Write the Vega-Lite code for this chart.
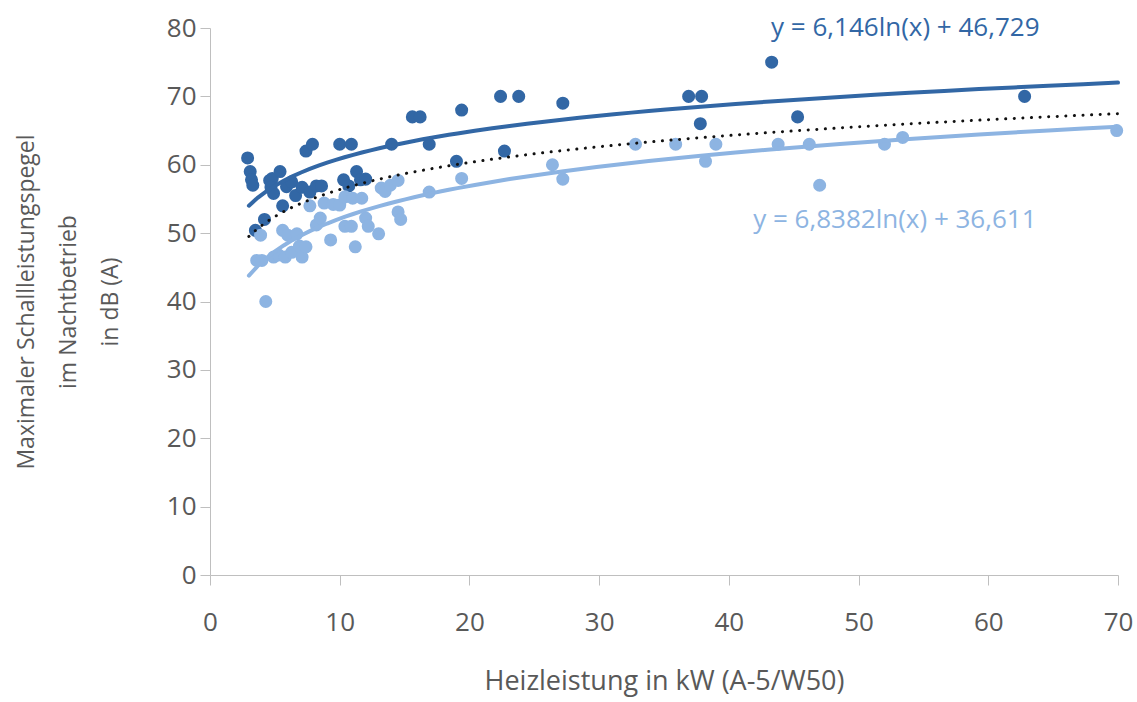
{
  "$schema": "https://vega.github.io/schema/vega-lite/v6.json",
  "autosize": "none",
  "width": 908,
  "height": 547,
  "padding": {"left": 210, "top": 28, "right": 19, "bottom": 127},
  "background": "white",
  "config": {
    "view": {"stroke": null},
    "font": "Open Sans",
    "axis": {
      "grid": false,
      "domainColor": "#bfbfbf",
      "tickColor": "#bfbfbf",
      "labelColor": "#595959",
      "titleColor": "#595959",
      "labelFont": "Open Sans",
      "titleFont": "Open Sans",
      "labelFontSize": 26,
      "titleFontSize": 23,
      "titleFontWeight": "normal",
      "tickSize": 10,
      "labelFlush": false
    }
  },
  "datasets": {
    "points": [
      {"kw": 2.9, "db": 61, "serie": "dunkel"},
      {"kw": 3.1, "db": 59, "serie": "dunkel"},
      {"kw": 3.2, "db": 57.8, "serie": "dunkel"},
      {"kw": 3.3, "db": 57, "serie": "dunkel"},
      {"kw": 3.5, "db": 50.4, "serie": "dunkel"},
      {"kw": 4.2, "db": 52, "serie": "dunkel"},
      {"kw": 4.6, "db": 57.7, "serie": "dunkel"},
      {"kw": 4.8, "db": 58, "serie": "dunkel"},
      {"kw": 4.7, "db": 56.7, "serie": "dunkel"},
      {"kw": 4.9, "db": 55.8, "serie": "dunkel"},
      {"kw": 5.4, "db": 59, "serie": "dunkel"},
      {"kw": 5.6, "db": 54, "serie": "dunkel"},
      {"kw": 5.9, "db": 56.8, "serie": "dunkel"},
      {"kw": 6.3, "db": 57.5, "serie": "dunkel"},
      {"kw": 6.6, "db": 55.5, "serie": "dunkel"},
      {"kw": 7.1, "db": 56.7, "serie": "dunkel"},
      {"kw": 7.4, "db": 62, "serie": "dunkel"},
      {"kw": 7.9, "db": 63, "serie": "dunkel"},
      {"kw": 7.7, "db": 56, "serie": "dunkel"},
      {"kw": 8.2, "db": 56.9, "serie": "dunkel"},
      {"kw": 8.6, "db": 56.9, "serie": "dunkel"},
      {"kw": 10.0, "db": 63, "serie": "dunkel"},
      {"kw": 10.3, "db": 57.8, "serie": "dunkel"},
      {"kw": 10.7, "db": 56.9, "serie": "dunkel"},
      {"kw": 10.9, "db": 63, "serie": "dunkel"},
      {"kw": 11.3, "db": 59, "serie": "dunkel"},
      {"kw": 11.6, "db": 57.8, "serie": "dunkel"},
      {"kw": 12.0, "db": 57.9, "serie": "dunkel"},
      {"kw": 14.0, "db": 63, "serie": "dunkel"},
      {"kw": 15.6, "db": 67, "serie": "dunkel"},
      {"kw": 16.2, "db": 67, "serie": "dunkel"},
      {"kw": 16.9, "db": 63, "serie": "dunkel"},
      {"kw": 19.0, "db": 60.5, "serie": "dunkel"},
      {"kw": 19.4, "db": 68, "serie": "dunkel"},
      {"kw": 22.4, "db": 70, "serie": "dunkel"},
      {"kw": 22.7, "db": 62, "serie": "dunkel"},
      {"kw": 23.8, "db": 70, "serie": "dunkel"},
      {"kw": 27.2, "db": 69, "serie": "dunkel"},
      {"kw": 36.9, "db": 70, "serie": "dunkel"},
      {"kw": 37.9, "db": 70, "serie": "dunkel"},
      {"kw": 37.8, "db": 66, "serie": "dunkel"},
      {"kw": 43.3, "db": 75, "serie": "dunkel"},
      {"kw": 45.3, "db": 67, "serie": "dunkel"},
      {"kw": 62.8, "db": 70, "serie": "dunkel"},
      {"kw": 3.6, "db": 46, "serie": "hell"},
      {"kw": 4.0, "db": 46, "serie": "hell"},
      {"kw": 4.3, "db": 40, "serie": "hell"},
      {"kw": 3.9, "db": 49.7, "serie": "hell"},
      {"kw": 4.9, "db": 46.5, "serie": "hell"},
      {"kw": 5.3, "db": 46.8, "serie": "hell"},
      {"kw": 5.6, "db": 50.4, "serie": "hell"},
      {"kw": 6.0, "db": 49.7, "serie": "hell"},
      {"kw": 5.8, "db": 46.5, "serie": "hell"},
      {"kw": 6.3, "db": 47.2, "serie": "hell"},
      {"kw": 6.7, "db": 49.9, "serie": "hell"},
      {"kw": 6.9, "db": 48.1, "serie": "hell"},
      {"kw": 7.1, "db": 46.5, "serie": "hell"},
      {"kw": 7.4, "db": 48, "serie": "hell"},
      {"kw": 7.7, "db": 54, "serie": "hell"},
      {"kw": 8.2, "db": 51.2, "serie": "hell"},
      {"kw": 8.5, "db": 52.2, "serie": "hell"},
      {"kw": 8.8, "db": 54.4, "serie": "hell"},
      {"kw": 9.3, "db": 49, "serie": "hell"},
      {"kw": 9.5, "db": 54.2, "serie": "hell"},
      {"kw": 10.0, "db": 54.1, "serie": "hell"},
      {"kw": 10.4, "db": 55.3, "serie": "hell"},
      {"kw": 10.4, "db": 51, "serie": "hell"},
      {"kw": 10.9, "db": 51, "serie": "hell"},
      {"kw": 11.2, "db": 48, "serie": "hell"},
      {"kw": 11.0, "db": 55.1, "serie": "hell"},
      {"kw": 11.7, "db": 55.1, "serie": "hell"},
      {"kw": 12.0, "db": 52.2, "serie": "hell"},
      {"kw": 12.2, "db": 51, "serie": "hell"},
      {"kw": 13.0, "db": 49.9, "serie": "hell"},
      {"kw": 13.2, "db": 56.6, "serie": "hell"},
      {"kw": 13.5, "db": 56.1, "serie": "hell"},
      {"kw": 13.9, "db": 57, "serie": "hell"},
      {"kw": 14.5, "db": 57.7, "serie": "hell"},
      {"kw": 14.5, "db": 53.1, "serie": "hell"},
      {"kw": 14.7, "db": 52, "serie": "hell"},
      {"kw": 16.9, "db": 56, "serie": "hell"},
      {"kw": 19.4, "db": 58, "serie": "hell"},
      {"kw": 26.4, "db": 60, "serie": "hell"},
      {"kw": 27.2, "db": 57.9, "serie": "hell"},
      {"kw": 32.8, "db": 63, "serie": "hell"},
      {"kw": 35.9, "db": 63, "serie": "hell"},
      {"kw": 38.2, "db": 60.5, "serie": "hell"},
      {"kw": 39.0, "db": 63, "serie": "hell"},
      {"kw": 43.8, "db": 63, "serie": "hell"},
      {"kw": 46.2, "db": 63, "serie": "hell"},
      {"kw": 47.0, "db": 57, "serie": "hell"},
      {"kw": 52.0, "db": 63, "serie": "hell"},
      {"kw": 53.4, "db": 64, "serie": "hell"},
      {"kw": 69.9, "db": 65, "serie": "hell"}
    ],
    "labels": [
      {"kw": 53.6, "db": 80, "text": "y = 6,146ln(x) + 46,729", "serie": "dunkel"},
      {"kw": 52.8, "db": 51.9, "text": "y = 6,8382ln(x) + 36,611", "serie": "hell"}
    ]
  },
  "layer": [
    {
      "data": {"name": "points"},
      "mark": {"type": "circle", "size": 170, "opacity": 1},
      "encoding": {
        "x": {
          "field": "kw", "type": "quantitative",
          "scale": {"domain": [0, 70], "nice": false},
          "axis": {"values": [0, 10, 20, 30, 40, 50, 60, 70], "title": "Heizleistung in kW (A-5/W50)", "titleFontSize": 27, "labelPadding": 24, "titlePadding": 33}
        },
        "y": {
          "field": "db", "type": "quantitative",
          "scale": {"domain": [0, 80], "nice": false},
          "axis": {"values": [0, 10, 20, 30, 40, 50, 60, 70, 80], "title": ["Maximaler Schallleistungspegel", "im Nachtbetrieb", "in dB (A)"], "titleLineHeight": 42, "labelPadding": 4, "titlePadding": 44}
        },
        "color": {
          "field": "serie", "type": "nominal",
          "scale": {"domain": ["dunkel", "hell"], "range": ["#3267a5", "#8db4e2"]},
          "legend": null
        }
      }
    },
    {
      "data": {"name": "points"},
      "transform": [
        {"regression": "db", "on": "kw", "method": "log", "groupby": ["serie"], "extent": [3, 70]}
      ],
      "mark": {"type": "line", "strokeWidth": 4, "strokeCap": "round"},
      "encoding": {
        "x": {"field": "kw", "type": "quantitative"},
        "y": {"field": "db", "type": "quantitative"},
        "color": {"field": "serie", "type": "nominal", "legend": null}
      }
    },
    {
      "data": {"name": "points"},
      "transform": [
        {"regression": "db", "on": "kw", "method": "log", "extent": [3, 70]}
      ],
      "mark": {"type": "line", "strokeWidth": 3, "strokeCap": "round", "strokeDash": [0.1, 8.5], "color": "#111111"},
      "encoding": {
        "x": {"field": "kw", "type": "quantitative"},
        "y": {"field": "db", "type": "quantitative"}
      }
    },
    {
      "data": {"name": "labels"},
      "mark": {"type": "text", "fontSize": 26, "font": "Open Sans", "align": "center", "baseline": "middle"},
      "encoding": {
        "x": {"field": "kw", "type": "quantitative"},
        "y": {"field": "db", "type": "quantitative"},
        "text": {"field": "text"},
        "color": {"field": "serie", "type": "nominal", "scale": {"domain": ["dunkel", "hell"], "range": ["#3267a5", "#8db4e2"]}, "legend": null}
      }
    }
  ]
}
